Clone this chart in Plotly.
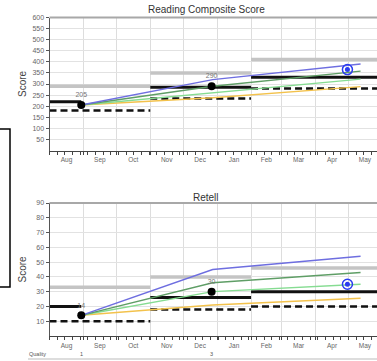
import plotly.graph_objects as go

W, H = 377, 361

# ---------------- data ----------------
seg_starts = ["2022-08-01", "2022-11-01", "2023-02-01"]
seg_ends = ["2022-11-01", "2023-02-01", "2023-06-01"]
solid_ends = ["2022-08-30", "2023-02-01", "2023-06-01"]

rc_gray = [290, 350, 410]
rc_solid = [220, 285, 330]
rc_dashed = [180, 235, 280]

rt_gray = [33, 40, 46]
rt_solid = [20, 26, 30]
rt_dashed = [10, 18, 20]

assess_dates = ["2022-08-30", "2022-12-27"]
rc_scores = [205, 290]
rt_scores = [14, 30]
quality = [1, 3]

traj_dates = ["2022-08-30", "2022-12-28", "2023-05-12"]
rc_blue = [205, 320, 390]
rc_dkgreen = [205, 290, 358]
rc_ltgreen = [205, 259, 322]
rc_orange = [205, 238, 288]

rt_blue = [14, 45, 54]
rt_dkgreen = [14, 36, 43]
rt_ltgreen = [14, 30, 35]
rt_orange = [14, 21, 25.5]

goal_date = "2023-04-30"
rc_goal = 365
rt_goal = 35

rc_ticks = [50, 100, 150, 200, 250, 300, 350, 400, 450, 500, 550, 600]
rt_ticks = [10, 20, 30, 40, 50, 60, 70, 80, 90]

FONT = "Liberation Sans, Arial, sans-serif"
TXT = "#666666"

fig = go.Figure()


def add_panel(xa, ya, gray, solid, dashed, blue, dkg, ltg, org, scores, goal):
    for s, e, g in zip(seg_starts, seg_ends, gray):
        fig.add_trace(go.Scatter(x=[s, e], y=[g, g], mode="lines", xaxis=xa, yaxis=ya,
                                 line=dict(color="#c4c4c4", width=3.5), hoverinfo="skip"))
    for s, e, v in zip(seg_starts, seg_ends, dashed):
        fig.add_trace(go.Scatter(x=[s, e], y=[v, v], mode="lines", xaxis=xa, yaxis=ya,
                                 line=dict(color="#111111", width=2.5, dash="7px,4px"), hoverinfo="skip"))
    for s, e, v in zip(seg_starts, solid_ends, solid):
        fig.add_trace(go.Scatter(x=[s, e], y=[v, v], mode="lines", xaxis=xa, yaxis=ya,
                                 line=dict(color="#111111", width=3), hoverinfo="skip"))
    for vals, col in [(org, "#f3c24c"), (ltg, "#86dc92"), (dkg, "#5f9e66"), (blue, "#6e6ee0")]:
        fig.add_trace(go.Scatter(x=traj_dates, y=vals, mode="lines", xaxis=xa, yaxis=ya,
                                 line=dict(color=col, width=1.4), hoverinfo="skip"))
    fig.add_trace(go.Scatter(x=assess_dates, y=scores, mode="markers+text", xaxis=xa, yaxis=ya,
                             marker=dict(color="#000000", size=8),
                             text=[str(v) for v in scores], textposition="top center",
                             textfont=dict(size=7, color="#777777", family=FONT), hoverinfo="skip"))
    fig.add_trace(go.Scatter(x=[goal_date], y=[goal], mode="markers", xaxis=xa, yaxis=ya,
                             marker=dict(color="rgba(0,0,0,0)", size=10, line=dict(color="#2a3cf0", width=1.5)),
                             hoverinfo="skip"))
    fig.add_trace(go.Scatter(x=[goal_date], y=[goal], mode="markers", xaxis=xa, yaxis=ya,
                             marker=dict(color="#2a3cf0", size=5), hoverinfo="skip"))


add_panel("x", "y", rc_gray, rc_solid, rc_dashed, rc_blue, rc_dkgreen, rc_ltgreen, rc_orange, rc_scores, rc_goal)
add_panel("x2", "y2", rt_gray, rt_solid, rt_dashed, rt_blue, rt_dkgreen, rt_ltgreen, rt_orange, rt_scores, rt_goal)

x0 = 49.5 / W
top_dom = [1 - 150.5 / H, 1 - 17.5 / H]
bot_dom = [1 - 336 / H, 1 - 203 / H]

xcommon = dict(type="date", range=["2022-08-01", "2023-05-27"], domain=[x0, 1], automargin=False,
               dtick="M1", tick0="2022-08-01", tickformat="%b", ticklabelmode="period",
               showgrid=True, gridcolor="#dddddd", gridwidth=1,
               showline=True, linecolor="#444444", linewidth=1,
               ticks="outside", ticklen=3, tickcolor="#444444",
               minor=dict(dtick=7 * 86400000, tick0="2022-08-01", ticks="outside", ticklen=3,
                          tickcolor="#444444", showgrid=False),
               tickfont=dict(size=6.5, color=TXT, family=FONT), zeroline=False, fixedrange=True)

ycommon = dict(showgrid=True, gridcolor="#e2e2e2", gridwidth=1, zeroline=False, automargin=False,
               showline=True, linecolor="#555555", linewidth=1,
               ticks="outside", ticklen=3, tickcolor="#555555",
               tickfont=dict(size=7, color=TXT, family=FONT))

fig.update_layout(
    width=W, height=H, margin=dict(l=0, r=0, t=0, b=0, autoexpand=False),
    paper_bgcolor="white", plot_bgcolor="white", showlegend=False,
    xaxis=dict(anchor="y", **xcommon),
    xaxis2=dict(anchor="y2", **xcommon),
    yaxis=dict(domain=top_dom, range=[0, 600], tickvals=rc_ticks, anchor="x", **ycommon),
    yaxis2=dict(domain=bot_dom, range=[0, 90], tickvals=rt_ticks, anchor="x2", **ycommon),
)

ann = []
ann.append(dict(text="Reading Composite Score", x=206 / W, y=1 - 10 / H, xref="paper", yref="paper",
                xanchor="center", yanchor="middle",
                showarrow=False, font=dict(size=10, color="#333333", family=FONT)))
ann.append(dict(text="Retell", x=206 / W, y=1 - 197 / H, xref="paper", yref="paper",
                xanchor="center", yanchor="middle",
                showarrow=False, font=dict(size=10, color="#333333", family=FONT)))
for yc in [84, 269.5]:
    ann.append(dict(text="Score", x=22 / W, y=1 - yc / H, xref="paper", yref="paper", textangle=-90,
                    xanchor="center", yanchor="middle",
                    showarrow=False, font=dict(size=10, color="#444444", family=FONT)))
ann.append(dict(text="Quality", x=37 / W, y=1 - 354 / H, xref="paper", yref="paper",
                xanchor="center", yanchor="middle",
                showarrow=False, font=dict(size=5.5, color="#555555", family=FONT)))
for d, q in zip(assess_dates, quality):
    ann.append(dict(text=str(q), x=d, y=1 - 354 / H, xref="x2", yref="paper",
                    xanchor="center", yanchor="middle",
                    showarrow=False, font=dict(size=5.5, color="#555555", family=FONT)))
fig.update_layout(annotations=ann)

shapes = []
for ytop in [17.5, 203]:
    shapes.append(dict(type="line", xref="paper", yref="paper", x0=x0, x1=1, y0=1 - ytop / H, y1=1 - ytop / H,
                       line=dict(color="#a8a8a8", width=2)))
shapes.append(dict(type="line", xref="paper", yref="paper", x0=28 / W, x1=1, y0=1 - 359 / H, y1=1 - 359 / H,
                   line=dict(color="#bbbbbb", width=1)))
shapes.append(dict(type="rect", xref="paper", yref="paper", x0=-0.02, x1=10 / W, y0=1 - 287 / H, y1=1 - 129 / H,
                   line=dict(color="#000000", width=1.5)))
fig.update_layout(shapes=shapes)

fig.write_html("out.html", config={"displayModeBar": False},
               post_script="document.body.style.margin='0px';document.body.style.overflow='hidden';")
